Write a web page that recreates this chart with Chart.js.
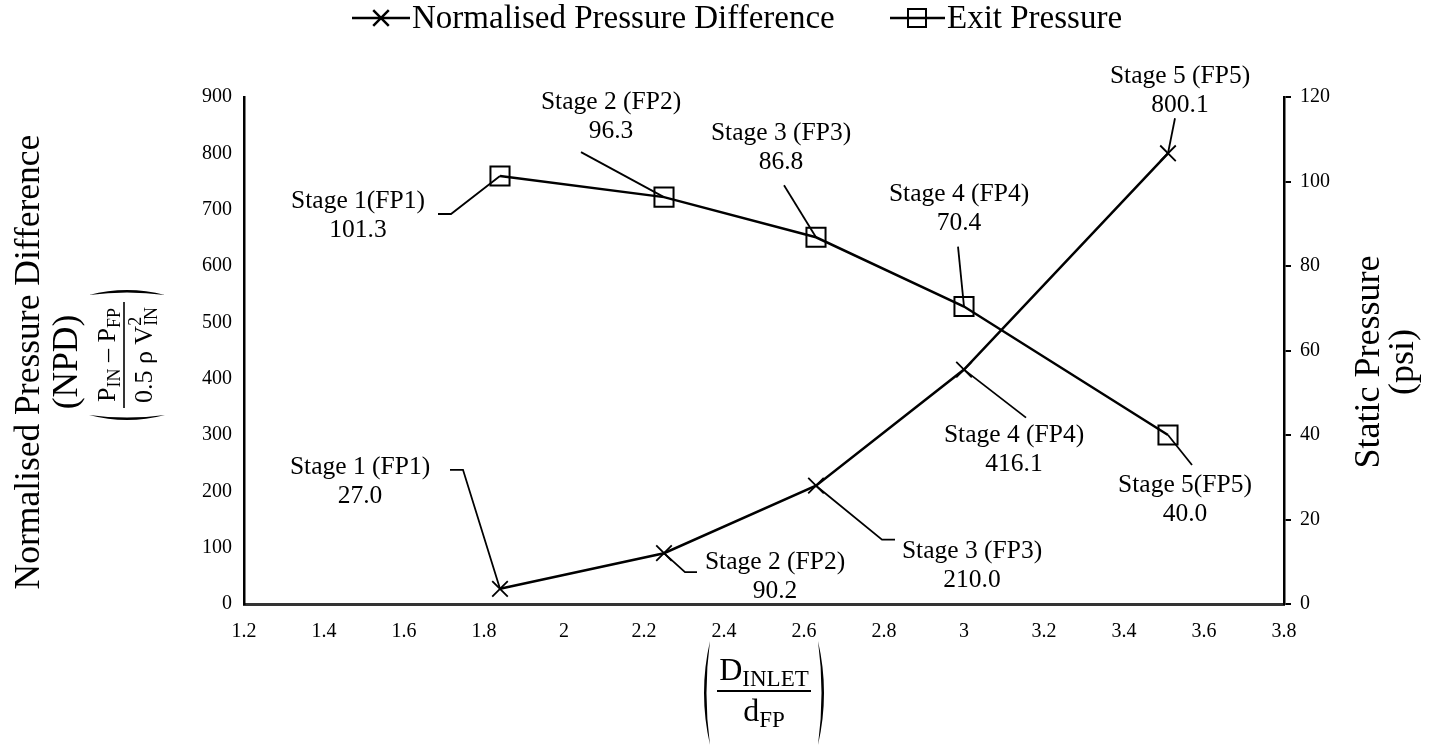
<!DOCTYPE html>
<html>
<head>
<meta charset="utf-8">
<script src="https://cdn.jsdelivr.net/npm/chart.js@4.4.1/dist/chart.umd.min.js"></script>
<style>
html,body{margin:0;padding:0;background:#fff;}
#wrap{width:1435px;height:746px;position:relative;}
</style>
</head>
<body>
<div id="wrap"><canvas id="c" width="1435" height="746"></canvas></div>
<script>
// ---------- data ----------
const diameterRatio = [1.84, 2.25, 2.63, 3.0, 3.51];
const npdValues = [27.0, 90.2, 210.0, 416.1, 800.1];
const exitPressure = [101.3, 96.3, 86.8, 70.4, 40.0];
const npdStageNames = ['Stage 1 (FP1)', 'Stage 2 (FP2)', 'Stage 3 (FP3)', 'Stage 4 (FP4)', 'Stage 5 (FP5)'];
const epStageNames = ['Stage 1(FP1)', 'Stage 2 (FP2)', 'Stage 3 (FP3)', 'Stage 4 (FP4)', 'Stage 5(FP5)'];
const xTickValues = [1.2, 1.4, 1.6, 1.8, 2.0, 2.2, 2.4, 2.6, 2.8, 3.0, 3.2, 3.4, 3.6, 3.8];
const npdTickValues = [0, 100, 200, 300, 400, 500, 600, 700, 800, 900];
const psiTickValues = [0, 20, 40, 60, 80, 100, 120];
const seriesNames = ['Normalised Pressure Difference', 'Exit Pressure'];

// ---------- label placement (pixel offsets from each point) ----------
const npdLabelLayout = [
  {dx: -140, dy: -107, leader: [[-50, -119], [-37, -119]]},
  {dx: 111, dy: 24, leader: [[33, 19], [21, 19]]},
  {dx: 156, dy: 80, leader: [[79, 54], [66, 54]]},
  {dx: 50, dy: 80, leader: [[62, 48]]},
  {dx: 12, dy: -62, leader: [[7, -35]]}
];
const epLabelLayout = [
  {dx: -142, dy: 40, leader: [[-62, 38], [-49, 38]]},
  {dx: -53, dy: -80, leader: [[-83, -45]]},
  {dx: -35, dy: -89, leader: [[-32, -52]]},
  {dx: -5, dy: -98, leader: [[-6, -60]]},
  {dx: 17, dy: 65, leader: [[24, 30]]}
];

const FONT = "'Liberation Serif', 'Times New Roman', serif";
const LABEL_SIZE = 25.5;
const LINE_GAP = 29;
const TICK_SIZE = 20;

function fmtTick(v) { return String(Math.round(v * 10) / 10); }

function drawLabels(chart, yScaleId, values, names, layout) {
  const ctx = chart.ctx;
  const xs = chart.scales.x, ys = chart.scales[yScaleId];
  ctx.save();
  ctx.strokeStyle = '#000';
  ctx.fillStyle = '#000';
  ctx.lineWidth = 1.8;
  ctx.font = LABEL_SIZE + 'px ' + FONT;
  ctx.textAlign = 'center';
  ctx.textBaseline = 'middle';
  values.forEach((v, i) => {
    const px = xs.getPixelForValue(diameterRatio[i]);
    const py = ys.getPixelForValue(v);
    const L = layout[i];
    ctx.beginPath();
    const pts = L.leader;
    ctx.moveTo(px + pts[0][0], py + pts[0][1]);
    for (let k = 1; k < pts.length; k++) ctx.lineTo(px + pts[k][0], py + pts[k][1]);
    ctx.lineTo(px, py);
    ctx.stroke();
    const cx = px + L.dx, cy = py + L.dy;
    ctx.fillText(names[i], cx, cy - LINE_GAP / 2);
    ctx.fillText(v.toFixed(1), cx, cy + LINE_GAP / 2);
  });
  ctx.restore();
}

function runWidth(ctx, runs) {
  let w = 0;
  runs.forEach(r => {
    ctx.font = r.size + 'px ' + FONT;
    if (r.stack) w += Math.max(ctx.measureText(r.sup).width, ctx.measureText(r.sub).width);
    else w += ctx.measureText(r.t).width;
  });
  return w;
}
function drawRuns(ctx, runs, cx, cy) {
  const w = runWidth(ctx, runs);
  let x = cx - w / 2;
  ctx.textAlign = 'left';
  ctx.textBaseline = 'alphabetic';
  runs.forEach(r => {
    ctx.font = r.size + 'px ' + FONT;
    if (r.stack) {
      ctx.fillText(r.sup, x, cy + r.supDy);
      ctx.fillText(r.sub, x, cy + r.subDy);
      x += Math.max(ctx.measureText(r.sup).width, ctx.measureText(r.sub).width);
    } else {
      ctx.fillText(r.t, x, cy + (r.dy || 0));
      x += ctx.measureText(r.t).width;
    }
  });
}
function drawParen(ctx, x, yTop, yBot, bulge) {
  const ym = (yTop + yBot) / 2;
  ctx.beginPath();
  ctx.moveTo(x, yTop);
  ctx.quadraticCurveTo(x + bulge * 2, ym, x, yBot);
  ctx.quadraticCurveTo(x + bulge * 2 - Math.sign(bulge) * 5, ym, x, yTop);
  ctx.closePath();
  ctx.fill();
}
function vText(ctx, text, x, y, size) {
  ctx.save();
  ctx.translate(x, y); ctx.rotate(-Math.PI / 2);
  ctx.textAlign = 'center'; ctx.textBaseline = 'middle';
  ctx.font = size + 'px ' + FONT;
  ctx.fillText(text, 0, 0);
  ctx.restore();
}

const annotationPlugin = {
  id: 'stageLabels',
  afterDatasetsDraw(chart) {
    drawLabels(chart, 'y', npdValues, npdStageNames, npdLabelLayout);
    drawLabels(chart, 'y1', exitPressure, epStageNames, epLabelLayout);
  }
};

const titlesPlugin = {
  id: 'titles',
  afterDraw(chart) {
    const ctx = chart.ctx;
    ctx.save();
    ctx.fillStyle = '#000';
    ctx.strokeStyle = '#000';
    // ---- legend ----
    const ly = 18;
    ctx.lineWidth = 2.5;
    ctx.beginPath(); ctx.moveTo(352, ly); ctx.lineTo(410, ly); ctx.stroke();
    Chart.helpers.drawPoint(ctx, {pointStyle: 'crossRot', radius: 11, borderWidth: 1.8, rotation: 0}, 381, ly);
    ctx.lineWidth = 2.5;
    ctx.beginPath(); ctx.moveTo(890, ly); ctx.lineTo(945, ly); ctx.stroke();
    ctx.lineWidth = 2;
    ctx.strokeRect(908, ly - 9, 18, 18);
    ctx.font = '33px ' + FONT;
    ctx.textAlign = 'left';
    ctx.textBaseline = 'middle';
    ctx.fillText(seriesNames[0], 412, ly + 1);
    ctx.fillText(seriesNames[1], 947, ly + 1);

    // ---- left axis title ----
    vText(ctx, 'Normalised Pressure Difference', 30, 362, 35.5);
    vText(ctx, '(NPD)', 68, 362, 35.5);
    ctx.save();
    ctx.translate(127, 355); ctx.rotate(-Math.PI / 2);
    drawRuns(ctx, [
      {t: 'P', size: 26}, {t: 'IN', size: 18, dy: 5}, {t: ' \u2013 ', size: 26},
      {t: 'P', size: 26}, {t: 'FP', size: 18, dy: 5}
    ], 0, -12);
    drawRuns(ctx, [
      {t: '0.5 \u03c1 V', size: 26}, {stack: true, sup: '2', sub: 'IN', size: 18, supDy: -11, subDy: 5}
    ], 0, 25);
    ctx.lineWidth = 1.6;
    ctx.beginPath(); ctx.moveTo(-53, -3); ctx.lineTo(53, -3); ctx.stroke();
    drawParen(ctx, -60, -38, 38, -5);
    drawParen(ctx, 60, -38, 38, 5);
    ctx.restore();

    // ---- right axis title ----
    vText(ctx, 'Static Pressure', 1370, 362, 36);
    vText(ctx, '(psi)', 1404, 362, 36);

    // ---- x axis title ----
    const tx = 764;
    drawRuns(ctx, [{t: 'D', size: 32}, {t: 'INLET', size: 23, dy: 6}], tx, 680);
    ctx.lineWidth = 1.8;
    ctx.beginPath(); ctx.moveTo(tx - 47, 691); ctx.lineTo(tx + 47, 691); ctx.stroke();
    drawRuns(ctx, [{t: 'd', size: 32}, {t: 'FP', size: 23, dy: 6}], tx, 721);
    drawParen(ctx, tx - 54, 641, 745, -6);
    drawParen(ctx, tx + 54, 641, 745, 6);
    ctx.restore();
  }
};

const ctx = document.getElementById('c').getContext('2d');
new Chart(ctx, {
  type: 'line',
  data: {
    datasets: [
      {
        label: seriesNames[0],
        data: diameterRatio.map((x, i) => ({x: x, y: npdValues[i]})),
        yAxisID: 'y',
        borderColor: '#000', borderWidth: 2.5,
        pointStyle: 'crossRot', pointRadius: 11, pointBorderWidth: 1.8,
        pointBorderColor: '#000', pointBackgroundColor: 'rgba(0,0,0,0)',
        tension: 0, fill: false
      },
      {
        label: seriesNames[1],
        data: diameterRatio.map((x, i) => ({x: x, y: exitPressure[i]})),
        yAxisID: 'y1',
        borderColor: '#000', borderWidth: 2.5,
        pointStyle: 'rect', pointRadius: 13.5, pointBorderWidth: 2,
        pointBorderColor: '#000', pointBackgroundColor: 'rgba(0,0,0,0)',
        tension: 0, fill: false
      }
    ]
  },
  options: {
    responsive: false, animation: false, devicePixelRatio: 1,
    layout: {padding: {top: 97, left: 0, right: 0, bottom: 0}},
    plugins: {legend: {display: false}, tooltip: {enabled: false}},
    scales: {
      x: {
        type: 'linear', min: 1.2, max: 3.8,
        afterBuildTicks: a => { a.ticks = xTickValues.map(v => ({value: v})); },
        afterFit: s => { s.height = 142; },
        grid: {display: false, drawTicks: false},
        border: {display: true, color: '#333', width: 3},
        ticks: {font: {family: FONT, size: TICK_SIZE}, color: '#000', padding: 16, maxRotation: 0, autoSkip: false, callback: v => fmtTick(v)}
      },
      y: {
        position: 'left', min: 0, max: 900,
        afterBuildTicks: a => { a.ticks = npdTickValues.map(v => ({value: v})); },
        afterFit: s => { s.width = 244; },
        grid: {display: false, drawTicks: false},
        border: {display: true, color: '#000', width: 2.5},
        ticks: {font: {family: FONT, size: TICK_SIZE}, color: '#000', padding: 12, callback: v => String(v)}
      },
      y1: {
        position: 'right', min: 0, max: 120,
        afterBuildTicks: a => { a.ticks = psiTickValues.map(v => ({value: v})); },
        afterFit: s => { s.width = 151; },
        grid: {drawOnChartArea: false, drawTicks: true, tickLength: 7, color: '#000', lineWidth: 2},
        border: {display: true, color: '#000', width: 2.5},
        ticks: {font: {family: FONT, size: TICK_SIZE}, color: '#000', padding: 9, callback: v => String(v)}
      }
    }
  },
  plugins: [annotationPlugin, titlesPlugin]
});
</script>
</body>
</html>
